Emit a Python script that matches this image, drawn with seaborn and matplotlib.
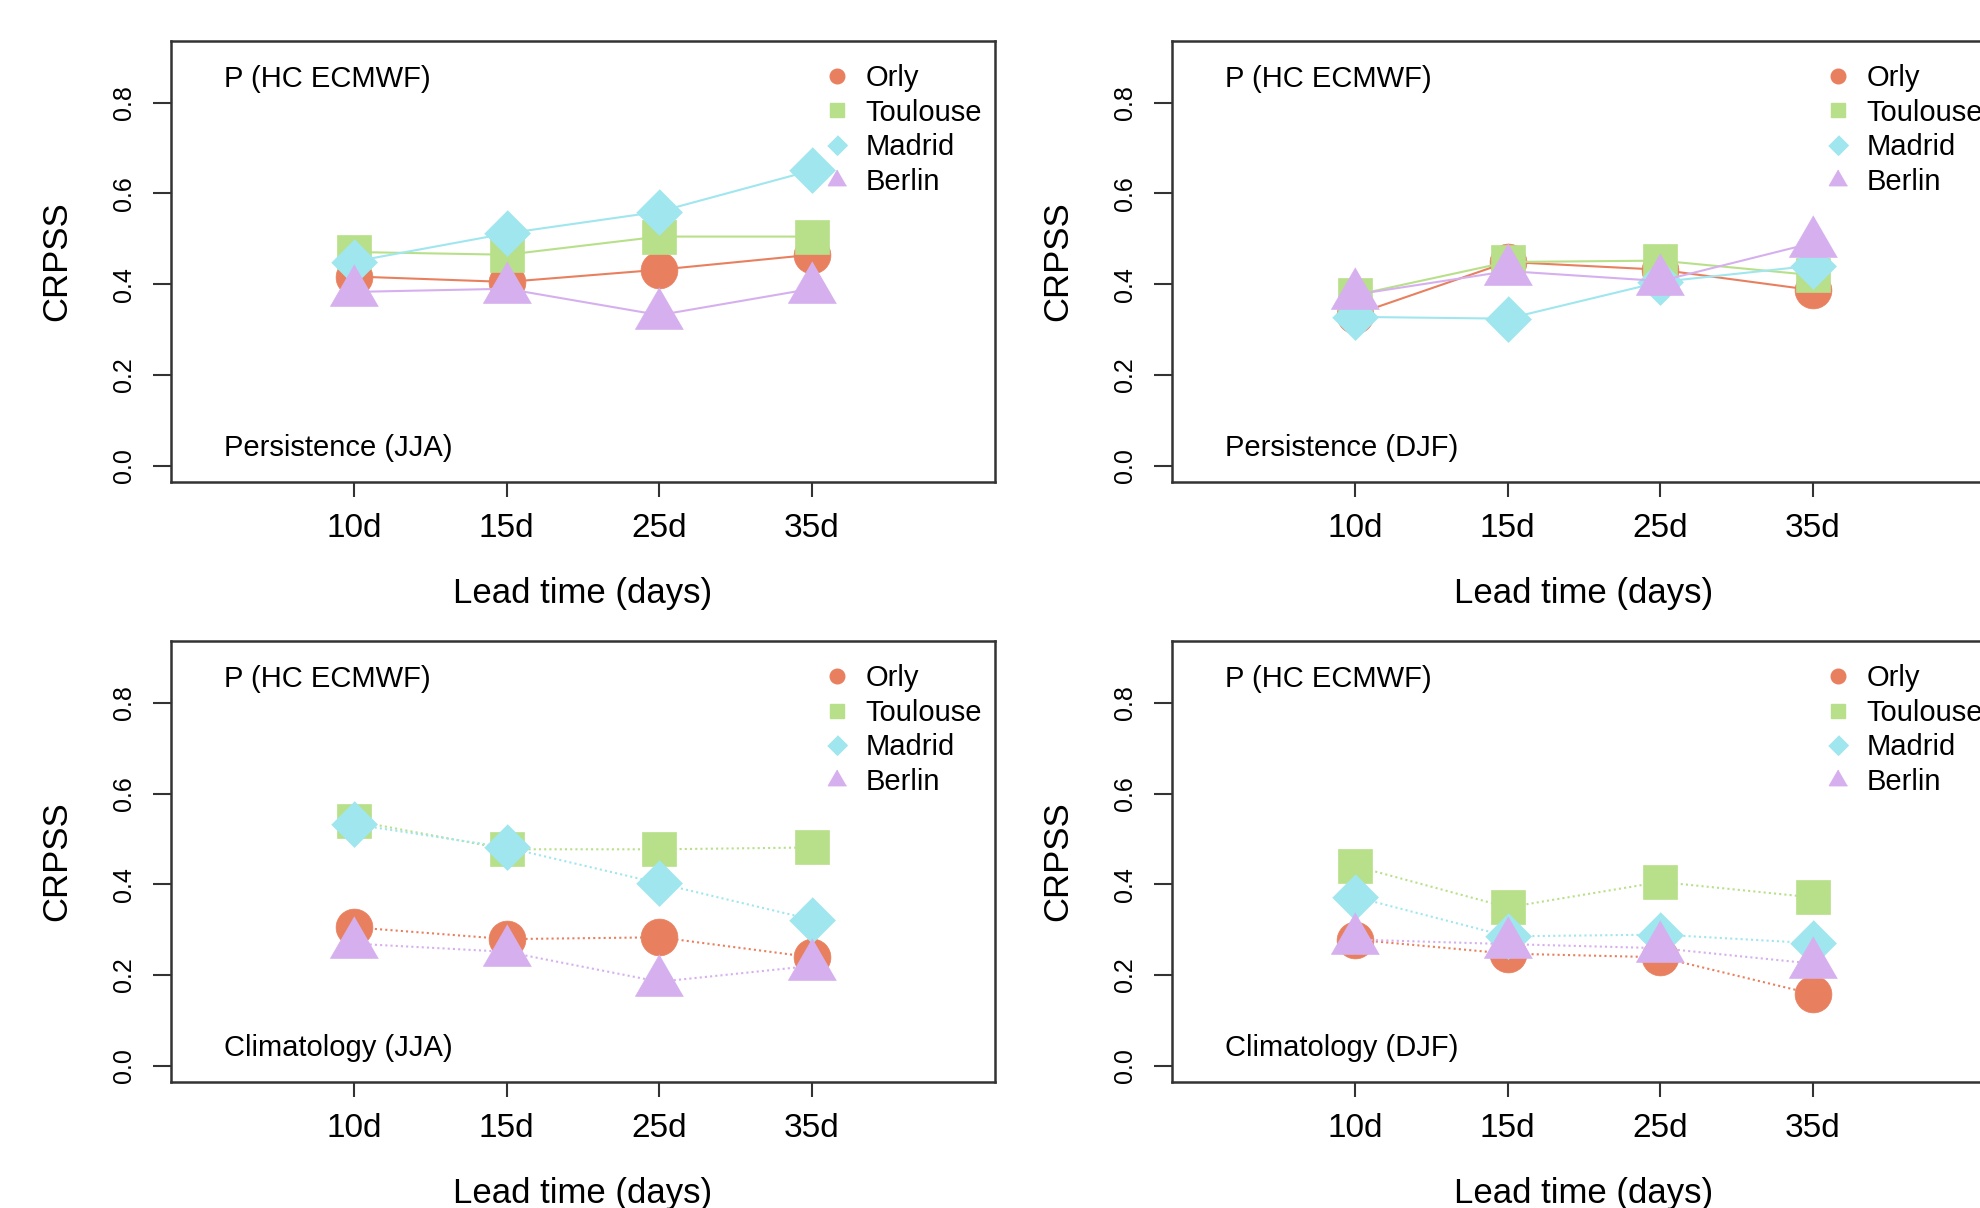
import numpy as np
import pandas as pd
import matplotlib
matplotlib.use('Agg')
import matplotlib.pyplot as plt
from matplotlib.lines import Line2D
import seaborn as sns

# Data
lead_labels = ['10d', '15d', '25d', '35d']
stations = ['Orly', 'Toulouse', 'Madrid', 'Berlin']

pers_jja = {
    'Orly':     [0.417, 0.405, 0.432, 0.465],
    'Toulouse': [0.471, 0.465, 0.505, 0.505],
    'Madrid':   [0.450, 0.512, 0.560, 0.651],
    'Berlin':   [0.383, 0.390, 0.332, 0.390],
}
pers_djf = {
    'Orly':     [0.333, 0.449, 0.432, 0.387],
    'Toulouse': [0.376, 0.449, 0.452, 0.420],
    'Madrid':   [0.328, 0.324, 0.405, 0.441],
    'Berlin':   [0.377, 0.429, 0.407, 0.491],
}
clim_jja = {
    'Orly':     [0.305, 0.279, 0.283, 0.239],
    'Toulouse': [0.540, 0.477, 0.477, 0.481],
    'Madrid':   [0.532, 0.481, 0.402, 0.322],
    'Berlin':   [0.269, 0.251, 0.185, 0.220],
}
clim_djf = {
    'Orly':     [0.278, 0.247, 0.239, 0.158],
    'Toulouse': [0.440, 0.349, 0.405, 0.371],
    'Madrid':   [0.372, 0.285, 0.289, 0.270],
    'Berlin':   [0.278, 0.268, 0.259, 0.225],
}

colors = {'Orly': '#E8805F', 'Toulouse': '#B8E08A',
          'Madrid': '#A0E6EE', 'Berlin': '#D6B0EE'}

# marker shapes (triangle centred on its centroid like R's pch 17)
tri = [(0, 1), (-0.866, -0.5), (0.866, -0.5)]
dia = [(0, 1), (1, 0), (0, -1), (-1, 0)]
markers = {'Orly': 'o', 'Toulouse': 's', 'Madrid': dia, 'Berlin': tri}
msize = {'Orly': 26.5, 'Toulouse': 24.5, 'Madrid': 33, 'Berlin': 40}
leg_size = {'Orly': 10.5, 'Toulouse': 10, 'Madrid': 14, 'Berlin': 15}

sns.set_style('ticks')
plt.rcParams['font.family'] = ['Liberation Sans', 'DejaVu Sans']
plt.rcParams['text.color'] = 'black'
plt.rcParams['axes.labelcolor'] = 'black'

fig = plt.figure(figsize=(19.81, 12.08), dpi=100)

panels = [
    (pers_jja, 'Persistence (JJA)', [0.0863, 0.601, 0.416, 0.365], '-'),
    (pers_djf, 'Persistence (DJF)', [0.5916, 0.601, 0.416, 0.365], '-'),
    (clim_jja, 'Climatology (JJA)', [0.0863, 0.1043, 0.416, 0.365], (0, (1, 1.5))),
    (clim_djf, 'Climatology (DJF)', [0.5916, 0.1043, 0.416, 0.365], (0, (1, 1.5))),
]

pos = np.arange(1, len(lead_labels) + 1)

for values, ref_name, rect, ls in panels:
    ax = fig.add_axes(rect)
    for st in stations:
        df = pd.DataFrame({'pos': pos, 'crpss': values[st]})
        sns.lineplot(data=df, x='pos', y='crpss', ax=ax, color=colors[st],
                     linestyle=ls, linewidth=1.5, marker=markers[st],
                     markersize=msize[st], markeredgecolor=colors[st],
                     markeredgewidth=0.5, errorbar=None)

    ax.set_xlim(-0.2, 5.2)
    ax.set_ylim(-0.036, 0.936)
    ax.set_xticks(pos)
    ax.set_xticklabels(lead_labels)
    ax.set_yticks([0.0, 0.2, 0.4, 0.6, 0.8])
    ax.set_yticklabels(['0.0', '0.2', '0.4', '0.6', '0.8'])
    ax.tick_params(axis='x', labelsize=24, length=11, width=1.5, pad=11,
                   color='#333333', labelcolor='black')
    ax.tick_params(axis='y', labelsize=18, length=13, width=1.5, pad=12,
                   color='#333333', labelcolor='black', labelrotation=90)
    for lab in ax.get_yticklabels():
        lab.set_va('center')
    for sp in ax.spines.values():
        sp.set_color('#333333')
        sp.set_linewidth(1.8)

    ax.set_xlabel('Lead time (days)', fontsize=25)
    ax.set_ylabel('CRPSS', fontsize=25)
    ax.xaxis.set_label_coords(0.5, -0.215)
    ax.yaxis.set_label_coords(-0.119, 0.5)

    ax.text(0.064, 0.915, 'P (HC ECMWF)', transform=ax.transAxes,
            fontsize=21, va='center', ha='left')
    ax.text(0.064, 0.078, ref_name, transform=ax.transAxes,
            fontsize=21, va='center', ha='left')

    handles = [Line2D([], [], linestyle='none', marker=markers[st],
                      color=colors[st], markersize=leg_size[st])
               for st in stations]
    ax.legend(handles, stations, loc='upper left', bbox_to_anchor=(0.79, 0.948),
              frameon=False, fontsize=21, borderpad=0, borderaxespad=0,
              handlelength=1.0, handletextpad=0.5, labelspacing=0.23)

fig.savefig('out.png', dpi=100)
